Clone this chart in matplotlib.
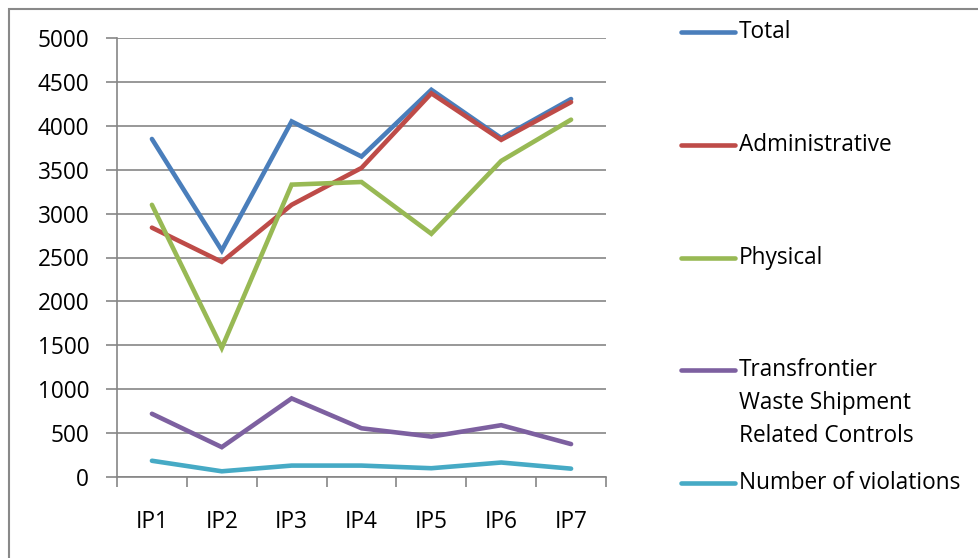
import matplotlib.pyplot as plt
from matplotlib.lines import Line2D
from matplotlib.patches import Rectangle
import numpy as np

categories = ['IP1', 'IP2', 'IP3', 'IP4', 'IP5', 'IP6', 'IP7']
total = [3850, 2580, 4050, 3650, 4410, 3860, 4305]
administrative = [2840, 2450, 3100, 3520, 4370, 3840, 4270]
physical = [3100, 1470, 3330, 3360, 2770, 3600, 4070]
transfrontier = [720, 340, 895, 555, 460, 590, 375]
violations = [185, 65, 130, 130, 100, 165, 95]

series_names = ['Total', 'Administrative', 'Physical',
                'Transfrontier\nWaste Shipment\nRelated Controls',
                'Number of violations']
series = [total, administrative, physical, transfrontier, violations]
colors = ['#4A7EBB', '#BE4B48', '#98B954', '#7D60A0', '#46AAC5']

plt.rcParams['font.family'] = ['Open Sans', 'DejaVu Sans']
W, H = 979, 558
FS = 16.3
fig = plt.figure(figsize=(W / 100, H / 100), dpi=100)

# outer chart border
fig.add_artist(Rectangle((9 / W, -0.05), 1.1, 1 - 9 / H + 0.05, transform=fig.transFigure,
                         fill=False, edgecolor='#898989', linewidth=1.5))

ax = fig.add_axes([117 / W, 1 - 477 / H, (606 - 117) / W, (477 - 38) / H])
x = np.arange(len(categories))
for vals, c in zip(series, colors):
    ax.plot(x, vals, color=c, linewidth=3.3, solid_capstyle='round',
            solid_joinstyle='miter', zorder=3)

ax.set_xlim(-0.5, len(categories) - 0.5)
ax.set_ylim(0, 5000)
ax.set_yticks(np.arange(0, 5001, 500))
ax.yaxis.grid(True, color='#868686', linewidth=1.2)
ax.set_axisbelow(True)
ax.set_xticks(x)
ax.set_xticklabels(categories)
ax.set_xticks(np.arange(-0.5, len(categories)), minor=True)
ax.tick_params(axis='x', which='major', length=0, pad=24, labelsize=FS)
ax.tick_params(axis='x', which='minor', length=7, width=1.2, color='#868686')
ax.tick_params(axis='y', length=8, width=1.2, color='#868686', pad=12, labelsize=FS)
for s in ['top', 'right']:
    ax.spines[s].set_visible(False)
ax.spines['left'].set_color('#868686')
ax.spines['bottom'].set_color('#868686')
ax.spines['left'].set_linewidth(1.2)
ax.spines['bottom'].set_linewidth(1.2)

# legend drawn as in the spreadsheet, entries evenly spaced
leg_y = [32, 145, 258, 370, 483]
for name, c, yy in zip(series_names, colors, leg_y):
    fy = 1 - yy / H
    fig.add_artist(Line2D([681 / W, 735 / W], [fy, fy], transform=fig.transFigure,
                          color=c, linewidth=3.3, solid_capstyle='round'))
    for i, line in enumerate(name.split('\n')):
        fig.text(739 / W, 1 - (yy + 33 * i) / H, line, va='center', ha='left',
                 fontsize=FS)

fig.savefig('out.png', dpi=100)
